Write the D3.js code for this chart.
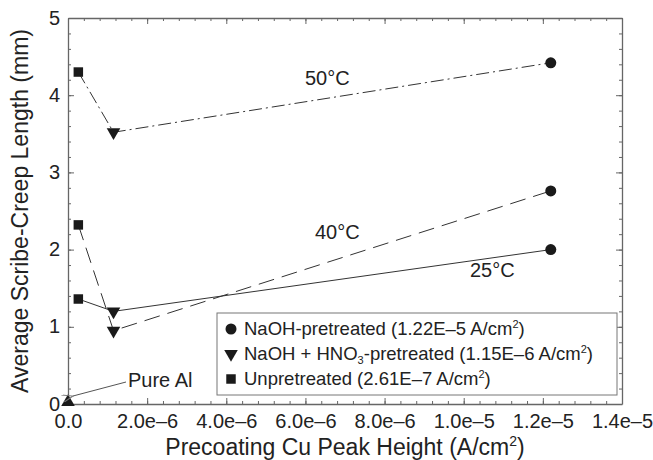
<!DOCTYPE html>
<html>
<head>
<meta charset="utf-8">
<script src="https://cdn.jsdelivr.net/npm/d3@7"></script>
<style>
  body { margin: 0; background: #fff; }
  svg { display: block; font-family: "Liberation Sans", Arial, sans-serif; }
  .axis path, .axis line { stroke: #666; }
  .axis text { fill: #222; font-size: 20px; font-family: "Liberation Sans", Arial, sans-serif; }
</style>
</head>
<body>
<div id="chart"></div>
<script>
// precoating Cu peak heights (A/cm2): unpretreated, NaOH + HNO3, NaOH
const xPeak = [2.61e-7, 1.15e-6, 1.22e-5];
const markerKinds = ['square', 'triangleDown', 'circle'];

const tempLabels = ['25°C', '40°C', '50°C'];
const creep25 = [1.36, 1.20, 2.00];
const creep40 = [2.32, 0.95, 2.76];
const creep50 = [4.30, 3.52, 4.42];

const pureAl = [0, 0];

const xTicks = [0, 2e-6, 4e-6, 6e-6, 8e-6, 1e-5, 1.2e-5, 1.4e-5];
const xTickLabels = ['0.0', '2.0e–6', '4.0e–6', '6.0e–6', '8.0e–6', '1.0e–5', '1.2e–5', '1.4e–5'];
const yTicks = [0, 1, 2, 3, 4, 5];

const legendLabels = [
  { kind: 'circle', text: 'NaOH-pretreated (1.22E–5 A/cm', sub: null, tail: ')' },
  { kind: 'triangleDown', text: 'NaOH + HNO', sub: '3', mid: '-pretreated (1.15E–6 A/cm', tail: ')' },
  { kind: 'square', text: 'Unpretreated (2.61E–7 A/cm', sub: null, tail: ')' }
];

const
  WIDTH = 653,
  HEIGHT = 460,
  MAJOR_TICK = 6,
  MINOR_TICK = 3;

const margin = { left: 68, right: 31, top: 18, bottom: 56 };
const chartWidth = WIDTH - margin.left - margin.right;
const chartHeight = HEIGHT - margin.top - margin.bottom;

const svg = d3.select('#chart')
  .append('svg')
  .attr('width', WIDTH)
  .attr('height', HEIGHT);

const g = svg.append('g')
  .attr('transform', `translate(${margin.left},${margin.top})`);

const xScale = d3.scaleLinear().domain([0, 1.4e-5]).range([0, chartWidth]);
const yScale = d3.scaleLinear().domain([0, 5]).range([chartHeight, 0]);

const xMinor = d3.range(0, 1.4e-5 + 1e-9, 4e-7);
const yMinor = d3.range(0, 5.0001, 0.2);

// Axes (ticks point inward on all four sides)
function addAxes() {
  g.append('g').attr('class', 'axis axis-x')
    .attr('transform', `translate(0,${chartHeight})`)
    .call(d3.axisBottom(xScale).tickValues(xTicks)
      .tickFormat((d, i) => xTickLabels[i])
      .tickSizeInner(-MAJOR_TICK).tickSizeOuter(0).tickPadding(10))
    .call(a => a.selectAll('text').attr('dy', '0.71em'));

  g.append('g').attr('class', 'axis axis-x-minor')
    .attr('transform', `translate(0,${chartHeight})`)
    .call(d3.axisBottom(xScale).tickValues(xMinor).tickFormat('')
      .tickSizeInner(-MINOR_TICK).tickSizeOuter(0))
    .select('.domain').remove();

  g.append('g').attr('class', 'axis axis-top')
    .call(d3.axisTop(xScale).tickValues(xTicks).tickFormat('')
      .tickSizeInner(-MAJOR_TICK).tickSizeOuter(0));
  g.append('g').attr('class', 'axis axis-top-minor')
    .call(d3.axisTop(xScale).tickValues(xMinor).tickFormat('')
      .tickSizeInner(-MINOR_TICK).tickSizeOuter(0))
    .select('.domain').remove();

  g.append('g').attr('class', 'axis axis-y')
    .call(d3.axisLeft(yScale).tickValues(yTicks).tickFormat(d3.format('d'))
      .tickSizeInner(-MAJOR_TICK).tickSizeOuter(0).tickPadding(8))
    .call(a => a.selectAll('text').attr('dy', '0.3em'));
  g.append('g').attr('class', 'axis axis-y-minor')
    .call(d3.axisLeft(yScale).tickValues(yMinor).tickFormat('')
      .tickSizeInner(-MINOR_TICK).tickSizeOuter(0))
    .select('.domain').remove();

  g.append('g').attr('class', 'axis axis-right')
    .attr('transform', `translate(${chartWidth},0)`)
    .call(d3.axisRight(yScale).tickValues(yTicks).tickFormat('')
      .tickSizeInner(-MAJOR_TICK).tickSizeOuter(0));
  g.append('g').attr('class', 'axis axis-right-minor')
    .attr('transform', `translate(${chartWidth},0)`)
    .call(d3.axisRight(yScale).tickValues(yMinor).tickFormat('')
      .tickSizeInner(-MINOR_TICK).tickSizeOuter(0))
    .select('.domain').remove();

  g.selectAll('.axis .domain').attr('stroke-width', 1.3);

  // titles
  svg.append('text')
    .attr('x', margin.left + chartWidth / 2)
    .attr('y', 455)
    .attr('text-anchor', 'middle')
    .attr('font-size', 23)
    .attr('fill', '#222')
    .text('Precoating Cu Peak Height (A/cm')
    .append('tspan').attr('font-size', 14).attr('dy', -9).text('2')
    .clone().attr('font-size', 23).attr('dy', 9).text(')');

  svg.append('text')
    .attr('transform', `translate(28,${margin.top + chartHeight / 2}) rotate(-90)`)
    .attr('text-anchor', 'middle')
    .attr('font-size', 23)
    .attr('fill', '#222')
    .text('Average Scribe-Creep Length (mm)');
}

function marker(sel, kind, size) {
  const symbols = {
    square: d3.symbolSquare,
    circle: d3.symbolCircle,
    triangleDown: d3.symbolTriangle,
    triangleUp: d3.symbolTriangle
  };
  sel.append('path')
    .attr('d', d3.symbol().type(symbols[kind]).size(size[kind]))
    .attr('transform', kind === 'triangleDown' ? 'rotate(180)' : null)
    .attr('fill', '#1a1a1a');
}

const markerSize = { square: 90, circle: 95, triangleDown: 80, triangleUp: 80 };

function addSeries() {
  const series = [
    { label: tempLabels[0], values: creep25, dash: null },
    { label: tempLabels[1], values: creep40, dash: '16,8' },
    { label: tempLabels[2], values: creep50, dash: '13,4,2,4' }
  ];

  const line = d3.line()
    .x((d, i) => xScale(xPeak[i]))
    .y(d => yScale(d));

  series.forEach(s => {
    g.append('path')
      .datum(s.values)
      .attr('d', line)
      .attr('fill', 'none')
      .attr('stroke', '#333')
      .attr('stroke-width', 1)
      .attr('stroke-dasharray', s.dash);

    s.values.forEach((v, i) => {
      const m = g.append('g')
        .attr('transform', `translate(${xScale(xPeak[i])},${yScale(v)})`);
      marker(m, markerKinds[i], markerSize);
    });
  });

  // pure Al point
  const pa = g.append('g')
    .attr('transform', `translate(${xScale(pureAl[0])},${yScale(pureAl[1]) - 2})`);
  marker(pa, 'triangleUp', markerSize);

  // series labels
  const labelPos = [
    { text: tempLabels[2], x: 305, y: 85 },
    { text: tempLabels[1], x: 315, y: 239 },
    { text: tempLabels[0], x: 470, y: 277 }
  ];
  svg.selectAll('.temp-label')
    .data(labelPos)
    .enter()
    .append('text')
    .attr('class', 'temp-label')
    .attr('x', d => d.x)
    .attr('y', d => d.y)
    .attr('font-size', 20)
    .attr('fill', '#222')
    .text(d => d.text);

  // Pure Al annotation + arrow
  svg.append('defs').append('marker')
    .attr('id', 'arrow')
    .attr('viewBox', '0 0 12 8')
    .attr('refX', 1).attr('refY', 4)
    .attr('markerWidth', 14).attr('markerHeight', 8)
    .attr('orient', 'auto-start-reverse')
    .attr('markerUnits', 'userSpaceOnUse')
    .append('path')
    .attr('d', 'M12,0 L1,4 L12,8')
    .attr('fill', 'none')
    .attr('stroke', '#777')
    .attr('stroke-width', 1);

  svg.append('line')
    .attr('x1', 126).attr('y1', 382)
    .attr('x2', 73).attr('y2', 396)
    .attr('stroke', '#555')
    .attr('stroke-width', 1)
    .attr('marker-end', 'url(#arrow)');

  svg.append('text')
    .attr('x', 128).attr('y', 387)
    .attr('font-size', 20)
    .attr('fill', '#222')
    .text('Pure Al');
}

function addLegend() {
  const box = { x: 217, y: 313, w: 400, h: 82 };
  const legend = svg.append('g').attr('class', 'legend');

  legend.append('rect')
    .attr('x', box.x).attr('y', box.y)
    .attr('width', box.w).attr('height', box.h)
    .attr('fill', '#fff')
    .attr('stroke', '#777')
    .attr('stroke-width', 1);

  legendLabels.forEach((item, i) => {
    const rowY = box.y + 22 + i * 25;
    const m = legend.append('g')
      .attr('transform', `translate(${box.x + 14},${rowY - 6})`);
    marker(m, item.kind, markerSize);

    const t = legend.append('text')
      .attr('x', box.x + 27)
      .attr('y', rowY)
      .attr('font-size', 18.5)
      .attr('fill', '#222')
      .text(item.text);
    if (item.sub) {
      t.append('tspan').attr('font-size', 11).attr('dy', 4).text(item.sub);
      t.append('tspan').attr('font-size', 18.5).attr('dy', -4).text(item.mid);
    }
    t.append('tspan').attr('font-size', 11).attr('dy', -7).text('2');
    t.append('tspan').attr('font-size', 18.5).attr('dy', 7).text(item.tail);
  });
}

addAxes();
addSeries();
addLegend();
</script>
</body>
</html>
